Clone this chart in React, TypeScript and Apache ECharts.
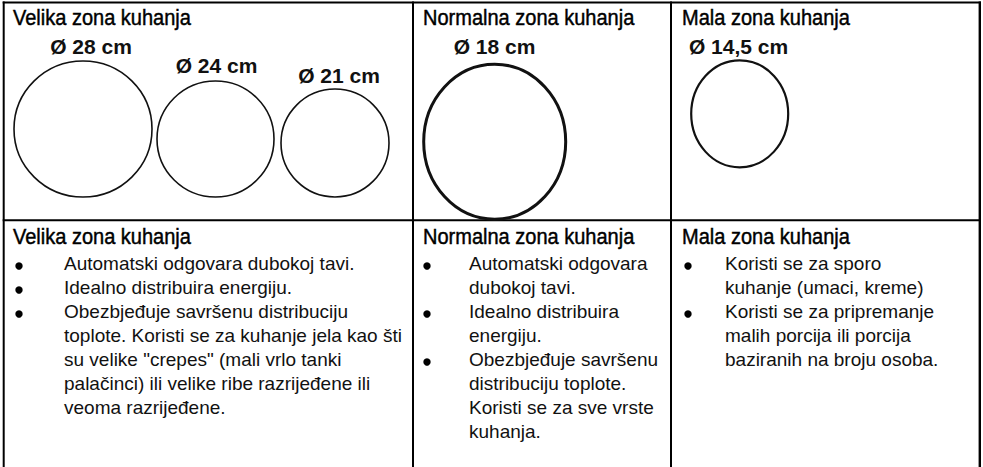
import React, { useEffect, useRef } from "react";
import * as echarts from "echarts";

// ---- Content (text data) ----
const ZONE_TITLES = ["Velika zona kuhanja", "Normalna zona kuhanja", "Mala zona kuhanja"];
const DIAMETER_LABELS = ["Ø 28 cm", "Ø 24 cm", "Ø 21 cm", "Ø 18 cm", "Ø 14,5 cm"];

const VELIKA_ITEMS: string[][] = [
  ["Automatski odgovara dubokoj tavi."],
  ["Idealno distribuira energiju."],
  [
    "Obezbjeđuje savršenu distribuciju",
    "toplote. Koristi se za kuhanje jela kao šti",
    "su velike \"crepes\" (mali vrlo tanki",
    "palačinci) ili velike ribe razrijeđene ili",
    "veoma razrijeđene.",
  ],
];
const NORMALNA_ITEMS: string[][] = [
  ["Automatski odgovara", "dubokoj tavi."],
  ["Idealno distribuira", "energiju."],
  ["Obezbjeđuje savršenu", "distribuciju toplote.", "Koristi se za sve vrste", "kuhanja."],
];
const MALA_ITEMS: string[][] = [
  ["Koristi se za sporo", "kuhanje (umaci, kreme)"],
  ["Koristi se za pripremanje", "malih porcija ili porcija", "baziranih na broju osoba."],
];

// ---- Layout (positions / sizes / styles) ----
const FONT = "'Liberation Sans', Arial, Helvetica, sans-serif";
const COLS = [
  { titleX: 13, bulletX: 19, textX: 64 },
  { titleX: 423, bulletX: 427, textX: 469 },
  { titleX: 682, bulletX: 688, textX: 725 },
];
const CIRCLES = [
  { cx: 83, cy: 129, rx: 69, ry: 68, lw: 1.6, lx: 91, ly: 46 },
  { cx: 215.5, cy: 139, rx: 58.5, ry: 58, lw: 1.6, lx: 216.5, ly: 65.5 },
  { cx: 335, cy: 143, rx: 54, ry: 54, lw: 1.6, lx: 339, ly: 75.5 },
  { cx: 494.7, cy: 141.7, rx: 71, ry: 77.5, lw: 3, lx: 494.5, ly: 46 },
  { cx: 739.7, cy: 113.8, rx: 48.5, ry: 53.5, lw: 2.2, lx: 738.5, ly: 46 },
];
const TOP_TITLE_Y = 16.7;
const BOTTOM_TITLE_Y = 236;
const BODY_Y0 = 263.5;
const LINE_H = 24;

export default function App() {
  const ref = useRef<HTMLDivElement>(null);

  useEffect(() => {
    if (!ref.current) return;
    const chart = echarts.init(ref.current, undefined, { renderer: "svg" });
    const els: any[] = [];

    // Table grid
    const line = (x1: number, y1: number, x2: number, y2: number, w = 2) =>
      els.push({ type: "line", shape: { x1, y1, x2, y2 }, style: { stroke: "#000", lineWidth: w }, silent: true });
    line(2.7, 2.5, 981, 2.5);
    line(2.7, 220.3, 981, 220.3);
    line(3.7, 1.5, 3.7, 467);
    line(413, 1.5, 413, 467);
    line(671, 1.5, 671, 467);
    line(979.8, 1.5, 979.8, 467, 2.4);

    // Titles
    const title = (text: string, x: number, y: number) =>
      els.push({
        type: "text",
        x,
        y,
        scaleX: 0.91,
        style: {
          text,
          fontFamily: FONT,
          fontSize: 22,
          fill: "#000",
          stroke: "#000",
          lineWidth: 0.45,
          textAlign: "left",
          textVerticalAlign: "middle",
          verticalAlign: "middle",
        },
      });
    ZONE_TITLES.forEach((t, i) => {
      title(t, COLS[i].titleX, TOP_TITLE_Y);
      title(t, COLS[i].titleX, BOTTOM_TITLE_Y);
    });

    // Circles and diameter labels
    CIRCLES.forEach((c, i) => {
      els.push({
        type: "ellipse",
        shape: { cx: c.cx, cy: c.cy, rx: c.rx, ry: c.ry },
        style: { fill: "none", stroke: "#111", lineWidth: c.lw },
      });
      els.push({
        type: "text",
        x: c.lx,
        y: c.ly,
        style: {
          text: DIAMETER_LABELS[i],
          fontFamily: FONT,
          fontSize: 21,
          fontWeight: "bold",
          fill: "#111",
          textAlign: "center",
          textVerticalAlign: "middle",
          verticalAlign: "middle",
        },
      });
    });

    // Bullet lists
    const body = (items: string[][], col: { bulletX: number; textX: number }) => {
      let n = 0;
      items.forEach((item) => {
        const yb = BODY_Y0 + n * LINE_H;
        els.push({
          type: "circle",
          shape: { cx: col.bulletX, cy: yb + 2.5, r: 3.7 },
          style: { fill: "#000" },
        });
        item.forEach((t) => {
          els.push({
            type: "text",
            x: col.textX,
            y: BODY_Y0 + n * LINE_H,
            style: {
              text: t,
              fontFamily: FONT,
              fontSize: 19,
              fill: "#111",
              textAlign: "left",
              textVerticalAlign: "middle",
              verticalAlign: "middle",
            },
          });
          n++;
        });
      });
    };
    body(VELIKA_ITEMS, COLS[0]);
    body(NORMALNA_ITEMS, COLS[1]);
    body(MALA_ITEMS, COLS[2]);

    chart.setOption({ animation: false, backgroundColor: "#fff", graphic: { elements: els } });
    return () => chart.dispose();
  }, []);

  return (
    <div
      ref={ref}
      style={{ position: "fixed", left: 0, top: 0, width: 983, height: 467, background: "#fff" }}
    />
  );
}
